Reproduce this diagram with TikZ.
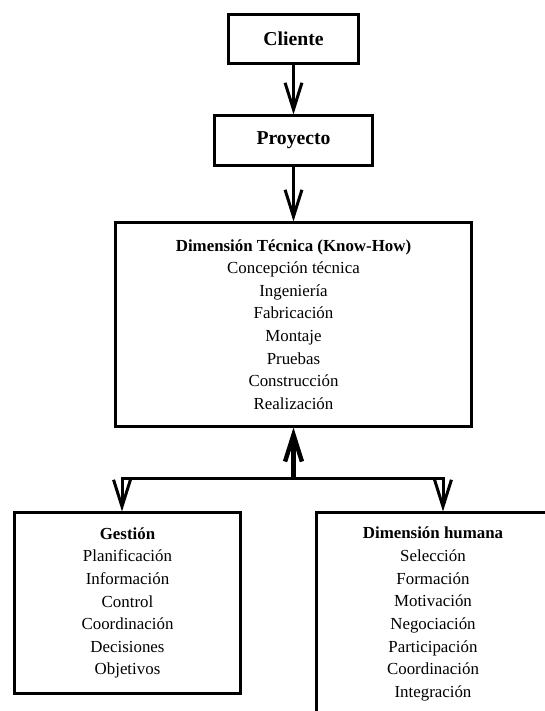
\documentclass[tikz,border=0pt]{standalone}
\usepackage{fontspec}
\setmainfont{Liberation Serif}
\usetikzlibrary{arrows.meta}
\tikzset{
  caja/.style={draw,line width=0.075cm,align=center,inner sep=0pt,font=\fontsize{12}{16.1}\selectfont},
  cajatop/.style={caja,font=\fontsize{14}{17}\selectfont\bfseries},
  flecha/.style={line width=0.075cm,-{Straight Barb[length=19pt,width=12pt]}},
}
\begin{document}
\begin{tikzpicture}[x=0.025cm,y=-0.025cm]
\clip (0,0) rectangle (545,711);
\node[cajatop,minimum width=3.25cm,minimum height=1.2cm] (cliente) at (293.5,39) {Cliente};
\node[cajatop,minimum width=3.95cm,minimum height=1.225cm] (proyecto) at (293.5,140.5) {Proyecto};
\node[caja,minimum width=8.9cm,minimum height=5.075cm] (tecnica) at (293.5,324.5)
  {\textbf{Dimensión Técnica (Know-How)}\\Concepción técnica\\Ingeniería\\Fabricación\\Montaje\\Pruebas\\Construcción\\Realización};
\node[caja,minimum width=5.625cm,minimum height=4.5cm] (gestion) at (127.5,603)
  {\textbf{Gestión}\\Planificación\\Información\\Control\\Coordinación\\Decisiones\\Objetivos};
\node[caja,minimum width=5.8cm,minimum height=5.05cm] (humana) at (433,614)
  {\textbf{Dimensión humana}\\Selección\\Formación\\Motivación\\Negociación\\Participación\\Coordinación\\Integración};
\coordinate (jc) at (293.5,478);
\coordinate (jl) at (122,478);
\coordinate (jr) at (443,478);
\draw[flecha] (cliente) -- (proyecto);
\draw[flecha] (proyecto) -- (tecnica);
\draw[flecha,line width=0.11cm] (jc) -- (tecnica);
\draw[flecha] (jc) -- (jl) -- (jl |- gestion.north);
\draw[flecha] (jc) -- (jr) -- (jr |- humana.north);
\end{tikzpicture}
\end{document}
